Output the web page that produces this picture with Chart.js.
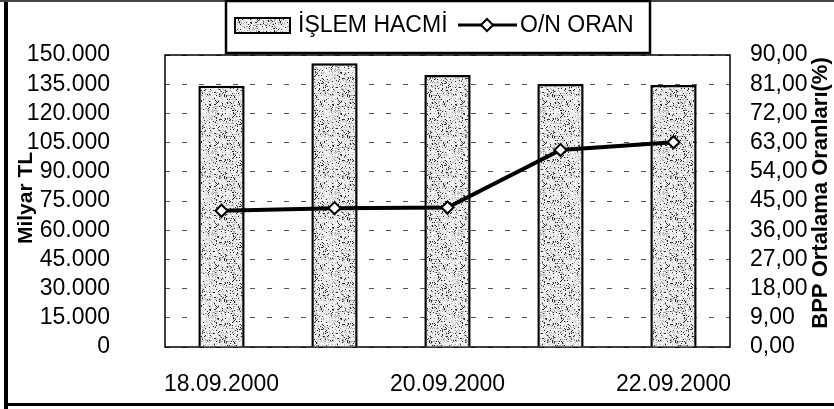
<!DOCTYPE html>
<html>
<head>
<meta charset="utf-8">
<script src="https://cdn.jsdelivr.net/npm/chart.js@4.4.0/dist/chart.umd.min.js"></script>
<style>
  body { margin: 0; background: #fff; }
  canvas { display: block; }
</style>
</head>
<body>
<canvas id="chart1" width="834" height="409"></canvas>
<script>
// data
const tarihler = ['18.09.2000', '19.09.2000', '20.09.2000', '21.09.2000', '22.09.2000'];
const islemHacmi = [134200, 145700, 139700, 135100, 134600];   // Milyar TL
const onOran = [42.0, 42.8, 43.0, 60.7, 63.1];                  // %
const solEtiketler = ['0', '15.000', '30.000', '45.000', '60.000', '75.000', '90.000', '105.000', '120.000', '135.000', '150.000'];
const sagEtiketler = ['0,00', '9,00', '18,00', '27,00', '36,00', '45,00', '54,00', '63,00', '72,00', '81,00', '90,00'];
const solBaslik = 'Milyar TL';
const sagBaslik = 'BPP Ortalama Oranları(%)';

const FONT = "'Liberation Sans', Arial, sans-serif";
Chart.defaults.font.family = FONT;
Chart.defaults.font.size = 23;
Chart.defaults.color = '#000';

let ctx = document.getElementById('chart1').getContext('2d');

// stippled fill like the scanned bars (fixed hash, no randomness)
function makeStipple() {
  const n = 41;
  const c = document.createElement('canvas');
  c.width = n; c.height = n;
  const g = c.getContext('2d');
  g.fillStyle = '#e9e9e9';
  g.fillRect(0, 0, n, n);
  for (let y = 0; y < n; y++) {
    for (let x = 0; x < n; x++) {
      let h = Math.imul(x, 374761393) + Math.imul(y, 668265263);
      h = Math.imul(h ^ (h >>> 13), 1274126177);
      h = ((h ^ (h >>> 16)) >>> 0) % 100;
      if (h < 9) g.fillStyle = '#2a2a2a';
      else if (h < 22) g.fillStyle = '#a8a8a8';
      else if (h < 40) g.fillStyle = '#ffffff';
      else continue;
      g.fillRect(x, y, 1, 1);
    }
  }
  return ctx.createPattern(c, 'repeat');
}
const stipple = makeStipple();

function drawDiamond(c, x, y, r) {
  c.beginPath();
  c.moveTo(x - r, y); c.lineTo(x, y - r); c.lineTo(x + r, y); c.lineTo(x, y + r);
  c.closePath();
  c.fillStyle = '#fff'; c.fill();
  c.lineWidth = 2; c.strokeStyle = '#000'; c.stroke();
}

const cerceve = {
  id: 'cerceve',
  beforeDatasetsDraw(chart) {
    const a = chart.chartArea, c = chart.ctx;
    c.save();
    c.strokeStyle = '#000';
    c.lineWidth = 1.5;
    c.strokeRect(a.left, a.top, a.right - a.left, a.bottom - a.top);
    c.restore();
  },
  afterDraw(chart) {
    const c = chart.ctx;
    const ds = chart.data.datasets;
    c.save();
    // outer frame
    c.fillStyle = '#000';
    c.fillRect(4, 0, 4, 409);
    c.fillRect(4, 403, 830, 3);
    c.fillStyle = '#444';
    c.fillRect(0, 0, 834, 2);

    // axis titles
    c.font = 'bold 21px ' + FONT;
    c.textAlign = 'center';
    c.textBaseline = 'middle';
    c.fillStyle = '#000';
    c.save(); c.translate(26, 198); c.rotate(-Math.PI / 2); c.fillText(solBaslik, 0, 0); c.restore();
    c.font = 'bold 22px ' + FONT;
    c.save(); c.translate(821, 193); c.rotate(-Math.PI / 2); c.fillText(sagBaslik, 0, 0); c.restore();

    // legend box
    c.fillStyle = '#fff';
    c.fillRect(226, 1, 424, 52);
    c.lineWidth = 2.5;
    c.strokeStyle = '#000';
    c.strokeRect(226, 1, 424, 52);
    c.fillStyle = stipple;
    c.fillRect(235, 18, 55, 15);
    c.lineWidth = 2;
    c.strokeRect(235, 18, 55, 15);
    c.fillStyle = '#000';
    c.font = '23px ' + FONT;
    c.textAlign = 'left';
    c.textBaseline = 'middle';
    c.fillText(ds[1].label, 298, 26);
    c.beginPath();
    c.moveTo(458, 25); c.lineTo(517, 25);
    c.lineWidth = 3; c.stroke();
    drawDiamond(c, 487, 25, 6);
    c.fillStyle = '#000';
    c.fillText(ds[0].label, 520, 26);
    c.restore();
  }
};

let myChart = new Chart(ctx, {
  data: {
    labels: tarihler,
    datasets: [{
      type: 'line',
      label: 'O/N ORAN',
      data: onOran,
      yAxisID: 'y1',
      borderColor: '#000',
      borderWidth: 4,
      pointStyle: 'rectRot',
      pointRadius: 6,
      pointBorderWidth: 2,
      pointBackgroundColor: '#fff',
      pointBorderColor: '#000',
      tension: 0,
      order: 0
    }, {
      type: 'bar',
      label: 'İŞLEM HACMİ',
      data: islemHacmi,
      yAxisID: 'y',
      backgroundColor: stipple,
      borderColor: '#000',
      borderWidth: 2.5,
      barPercentage: 0.41,
      categoryPercentage: 1,
      order: 1
    }]
  },
  options: {
    responsive: false,
    animation: false,
    layout: { padding: { top: 55, left: 0, right: 0, bottom: 0 } },
    plugins: {
      legend: { display: false },
      tooltip: { enabled: false }
    },
    scales: {
      x: {
        grid: { display: false, drawTicks: false },
        border: { display: false },
        ticks: {
          autoSkip: false,
          maxRotation: 0,
          padding: 24,
          callback: (v, i) => i % 2 === 0 ? tarihler[i] : ''
        },
        afterFit: s => { s.height = 62; }
      },
      y: {
        position: 'left',
        min: 0,
        max: 150000,
        grid: { color: '#555', lineWidth: 1, drawTicks: false },
        border: { display: false, dash: [5, 12] },
        ticks: {
          autoSkip: false,
          stepSize: 15000,
          padding: 55,
          callback: (v, i) => solEtiketler[i]
        },
        afterFit: s => { s.width = 165; s.paddingTop = 14; s.paddingBottom = 14; }
      },
      y1: {
        position: 'right',
        min: 0,
        max: 90,
        grid: { display: false, drawTicks: false },
        border: { display: false },
        ticks: {
          autoSkip: false,
          stepSize: 9,
          padding: 20,
          callback: (v, i) => sagEtiketler[i]
        },
        afterFit: s => { s.width = 104; s.paddingTop = 14; s.paddingBottom = 14; }
      }
    }
  },
  plugins: [cerceve]
});
</script>
</body>
</html>
